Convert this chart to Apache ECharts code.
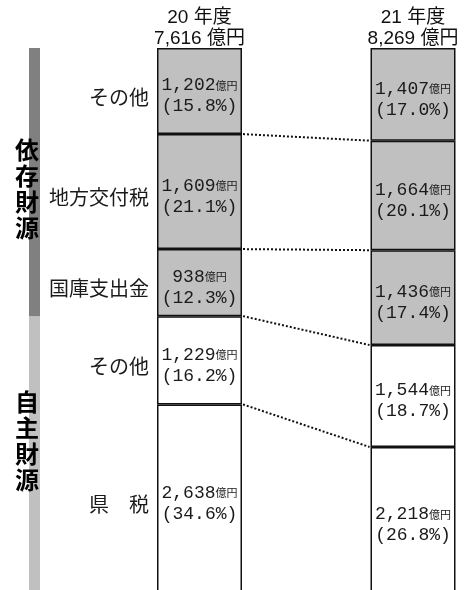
<!DOCTYPE html>
<html>
<head>
<meta charset="utf-8">
<script src="https://cdn.jsdelivr.net/npm/echarts@6/dist/echarts.min.js"></script>
<style>
  html, body { margin: 0; padding: 0; background: #fff; }
  #chart { width: 473px; height: 590px; }
</style>
</head>
<body>
<div id="chart"></div>
<script>
// Fiscal years and revenue totals (億円)
const years = ['20 年度', '21 年度'];
const totals = ['7,616', '8,269'];

// Revenue items, listed bottom to top of each column
const itemNames = ['県　税', 'その他', '国庫支出金', '地方交付税', 'その他'];
const itemGroup = [0, 0, 1, 1, 1]; // 0 = 自主財源, 1 = 依存財源
const amounts20 = [2638, 1229, 938, 1609, 1202];
const amounts21 = [2218, 1544, 1436, 1664, 1407];
const shares20 = [34.6, 16.2, 12.3, 21.1, 15.8];
const shares21 = [26.8, 18.7, 17.4, 20.1, 17.0];

const groupNames = ['自主財源', '依存財源'];

const amounts = [amounts20, amounts21];
const shares = [shares20, shares21];

const BAR_W = 85;
const HALF = BAR_W / 2;
const CJK = "'Noto Sans CJK JP', 'Noto Sans', sans-serif";
const NUM = "'Liberation Mono', 'DejaVu Sans Mono', monospace";
const HEAD = "'Liberation Sans', 'Noto Sans CJK JP', sans-serif";

// cumulative boundaries per year
function cumulative(arr) {
  const out = [0];
  arr.forEach(v => out.push(+(out[out.length - 1] + v).toFixed(4)));
  return out;
}
const cum20 = cumulative(shares20);
const cum21 = cumulative(shares21);

function fmt(n) { return n.toLocaleString('en-US'); }

const barSeries = itemNames.map((name, i) => ({
  name: name + i,
  type: 'bar',
  stack: 'total',
  barWidth: BAR_W,
  data: [shares20[i], shares21[i]],
  itemStyle: {
    color: itemGroup[i] === 1 ? '#c0c0c0' : '#ffffff',
    borderColor: '#111',
    borderWidth: 1.5
  },
  label: {
    show: true,
    position: 'inside',
    offset: [0, 5],
    formatter: p => '{n|' + fmt(amounts[p.dataIndex][i]) + '}{u|億円}\n{p|(' + shares[p.dataIndex][i].toFixed(1) + '%)}',
    rich: {
      n: { fontFamily: NUM, fontSize: 18, color: '#1a1a1a', lineHeight: 21 },
      u: { fontFamily: CJK, fontSize: 11, color: '#1a1a1a', lineHeight: 21 },
      p: { fontFamily: NUM, fontSize: 18, color: '#1a1a1a', lineHeight: 21 }
    }
  },
  emphasis: { disabled: true },
  z: 2
}));

// item names placed to the left of the first column
const nameData = itemNames.map((n, i) => [0, cum20[i], cum20[i + 1], n]);
const nameSeries = {
  type: 'custom',
  data: nameData,
  silent: true,
  z: 3,
  renderItem: (params, api) => {
    const mid = (api.value(1) + api.value(2)) / 2;
    const p = api.coord([0, mid]);
    return {
      type: 'text',
      style: {
        x: p[0] - HALF - 8,
        y: p[1] + 6,
        text: itemNames[params.dataIndex],
        textAlign: 'right',
        textVerticalAlign: 'middle',
        font: '20px ' + CJK,
        fill: '#1a1a1a'
      }
    };
  }
};

// dotted connectors between matching boundaries of the two columns
const linkData = [1, 2, 3, 4].map(k => [cum20[k], cum21[k]]);
const linkSeries = {
  type: 'custom',
  data: linkData,
  silent: true,
  z: 1,
  renderItem: (params, api) => {
    const a = api.coord([0, api.value(0)]);
    const b = api.coord([1, api.value(1)]);
    return {
      type: 'line',
      shape: { x1: a[0] + HALF + 1, y1: a[1], x2: b[0] - HALF - 1, y2: b[1] },
      style: { stroke: '#111', lineWidth: 2, lineDash: [2, 2] }
    };
  }
};

// group bands (自主財源 / 依存財源) along the left edge
const g0End = cum20[itemGroup.lastIndexOf(0) + 1];
const groupData = [[0, g0End, 0], [g0End, 100, 1]];
const groupColors = ['#c0c0c0', '#808080'];
const groupTextShift = [-14, 7];
const groupSeries = {
  type: 'custom',
  data: groupData,
  silent: true,
  z: 4,
  renderItem: (params, api) => {
    const lo = api.coord([0, api.value(0)]);
    const hi = api.coord([0, api.value(1)]);
    const gi = api.value(2);
    const midY = (lo[1] + hi[1]) / 2 + groupTextShift[gi];
    return {
      type: 'group',
      children: [
        {
          type: 'rect',
          shape: { x: 29, y: hi[1], width: 11, height: lo[1] - hi[1] },
          style: { fill: groupColors[gi] }
        },
        {
          type: 'text',
          style: {
            x: 27,
            y: midY,
            text: groupNames[gi].split('').join('\n'),
            textAlign: 'center',
            textVerticalAlign: 'middle',
            font: 'bold 24px ' + CJK,
            lineHeight: 26,
            fill: '#000'
          }
        }
      ]
    };
  }
};

const chart = echarts.init(document.getElementById('chart'), null, { renderer: 'canvas' });
chart.setOption({
  animation: false,
  backgroundColor: '#ffffff',
  grid: {
    left: 199.5, right: 60, top: 48, height: 545,
    containLabel: false,
    outerBoundsMode: 'none'
  },
  xAxis: {
    type: 'category',
    position: 'top',
    boundaryGap: false,
    data: years.map((y, i) => y + '\n' + totals[i] + ' 億円'),
    axisLine: { show: false },
    axisTick: { show: false },
    splitLine: { show: false },
    axisLabel: {
      margin: -1,
      fontFamily: HEAD,
      fontSize: 19,
      lineHeight: 21,
      color: '#111',
      interval: 0
    }
  },
  yAxis: {
    type: 'value',
    min: 0,
    max: 100,
    show: false
  },
  series: [linkSeries].concat(barSeries, [nameSeries, groupSeries])
});
</script>
</body>
</html>
